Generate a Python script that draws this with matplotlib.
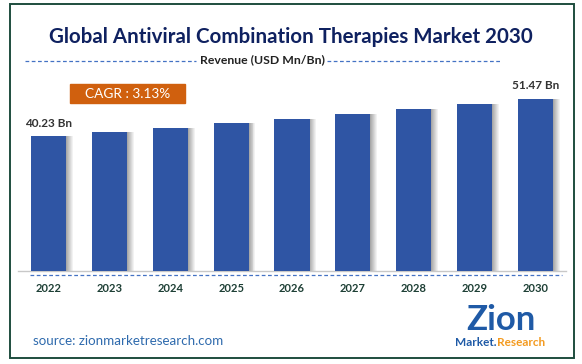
import matplotlib.pyplot as plt
import matplotlib.patches as patches
import numpy as np

plt.rcParams['font.family'] = ['Lato', 'DejaVu Sans']

years = ['2022', '2023', '2024', '2025', '2026', '2027', '2028', '2029', '2030']
revenue = [40.23, 41.49, 42.79, 44.13, 45.51, 46.93, 48.40, 49.92, 51.47]
labels = {0: '40.23 Bn', 8: '51.47 Bn'}
cagr_text = 'CAGR : 3.13%'

W, H = 582, 364
fig = plt.figure(figsize=(W / 100, H / 100), dpi=100)

# outer frame
fig.add_artist(patches.Rectangle((10 / W, 1 - 358 / H), 564 / W, 354 / H,
                                 transform=fig.transFigure, fill=False,
                                 edgecolor='#1e4d3e', linewidth=1.4))

# title and subtitle
fig.text(291 / W, 1 - 37 / H, 'Global Antiviral Combination Therapies Market 2030',
         ha='center', va='center', fontsize=14.8, fontweight='bold', color='#0f2160')
fig.text(262 / W, 1 - 60 / H, 'Revenue (USD Mn/Bn)', ha='center', va='center',
         fontsize=8.8, fontweight='bold', color='#222222')
for x0, x1 in [(25, 196), (327, 500)]:
    fig.add_artist(plt.Line2D([x0 / W, x1 / W], [1 - 61 / H, 1 - 61 / H],
                              transform=fig.transFigure, color='#4472c4',
                              linewidth=0.9, linestyle=(0, (3, 2))))

# bars
ax = fig.add_axes([18 / W, 1 - 271 / H, 548 / W, 191 / H])
x = np.arange(len(years))
bw = 0.575
# soft shadow on the right side of each bar
for i in range(7):
    ax.bar(x + bw / 2 + (i + 0.5) * 0.016, revenue, width=0.016,
           color='#505050', alpha=0.5 * (1 - i / 7), linewidth=0)
ax.bar(x, revenue, width=bw, color='#2f55a4', linewidth=0, zorder=3)
ax.set_xlim(-0.5, 8.5)
ax.set_ylim(0, 57)
for i, t in labels.items():
    ax.text(x[i], revenue[i] + 2.2, t, ha='center', va='bottom',
            fontsize=8.5, fontweight='bold', color='#333333')
for s in ['top', 'right', 'left']:
    ax.spines[s].set_visible(False)
ax.spines['bottom'].set_color('#c8c8c8')
ax.spines['bottom'].set_linewidth(1)
ax.set_yticks([])
ax.set_xticks(x)
ax.set_xticklabels(years, fontsize=8, fontweight='bold', color='#1d3f35')
ax.tick_params(axis='x', length=0, pad=9)

# dashed line under baseline
fig.add_artist(plt.Line2D([30 / W, 562 / W], [1 - 274.5 / H, 1 - 274.5 / H],
                          transform=fig.transFigure, color='#4472c4',
                          linewidth=0.9, linestyle=(0, (3, 2))))

# CAGR box
fig.add_artist(patches.Rectangle((70 / W, 1 - 103 / H), 115 / W, 19 / H,
                                 transform=fig.transFigure, color='#d0600e'))
fig.text(127.5 / W, 1 - 93.5 / H, cagr_text, ha='center', va='center',
         fontsize=9.8, color='white')

# source
fig.text(33 / W, 1 - 341 / H, 'source: zionmarketresearch.com', ha='left',
         va='center', fontsize=9.6, color='#2e6aad')

# logo (text)
fig.text(501 / W, 1 - 320 / H, 'Zion', ha='center', va='center', fontsize=25,
         fontweight='bold', color='#1f5aa6')
fig.text(497 / W, 1 - 343 / H, 'Market.', ha='right', va='center', fontsize=8.5,
         fontweight='bold', color='#1f5aa6')
fig.text(497 / W, 1 - 343 / H, 'Research', ha='left', va='center', fontsize=8.5,
         fontweight='bold', color='#f39a1f')

fig.savefig('out.png', dpi=100)
